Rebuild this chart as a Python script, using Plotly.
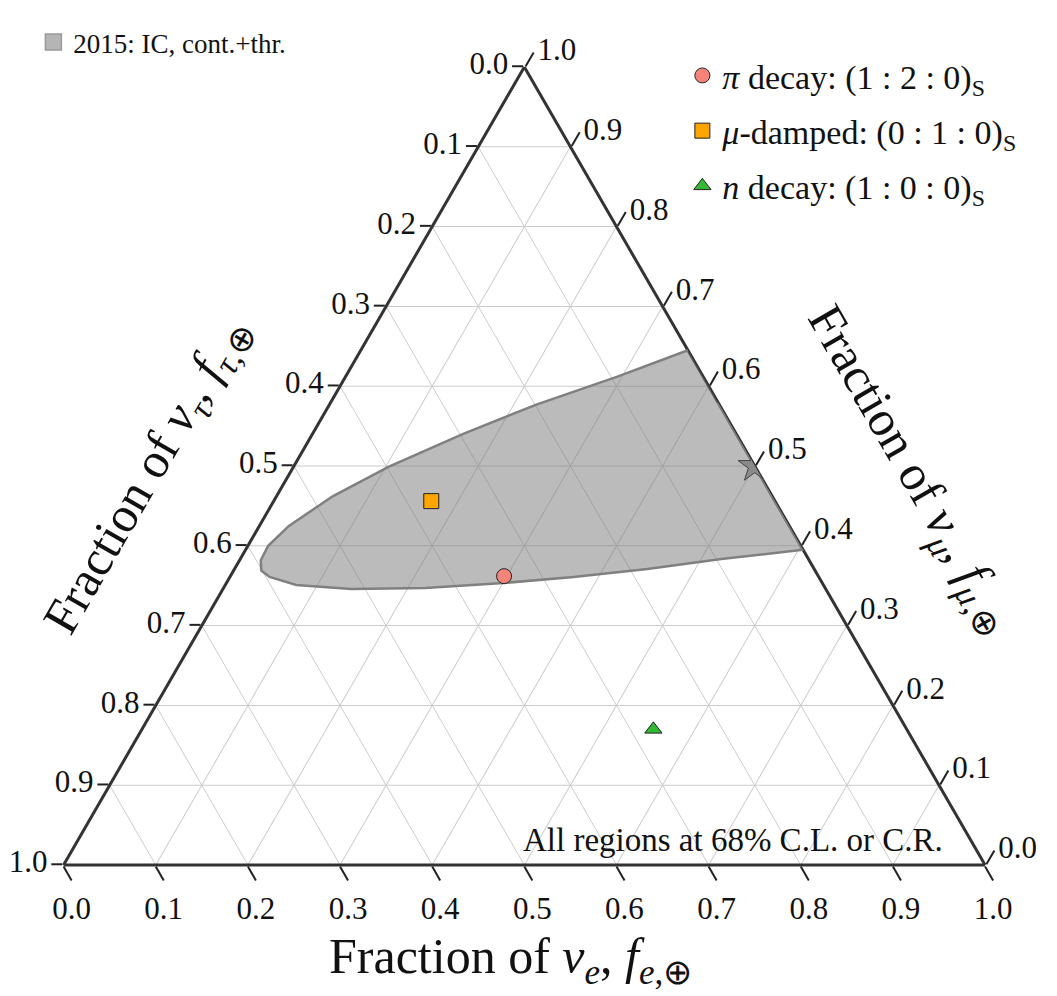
import plotly.graph_objects as go

FONT = "Liberation Serif"

# Tick values along each ternary axis (fractions)
tick_vals = [0.0, 0.1, 0.2, 0.3, 0.4, 0.5, 0.6, 0.7, 0.8, 0.9, 1.0]
tick_text = ["1.0", "0.9", "0.8", "0.7", "0.6", "0.5", "0.4", "0.3", "0.2", "0.1", "0.0"]

# 2015 IceCube region (68% C.R.): flavour fractions at Earth
region_e = [0.355, 0.295, 0.2245, 0.163, 0.103, 0.061, 0.032, 0.022, 0.023,
            0.030, 0.043, 0.077, 0.139, 0.219, 0.297, 0.373, 0.448, 0.522, 0.605,
            0.540, 0.480, 0.420]
region_mu = [0.645, 0.612, 0.577, 0.540, 0.499, 0.462, 0.425, 0.400, 0.382,
             0.369, 0.361, 0.351, 0.346, 0.347, 0.353, 0.361, 0.371, 0.3835, 0.395,
             0.460, 0.520, 0.580]
region_tau = [0.000, 0.093, 0.1985, 0.297, 0.398, 0.477, 0.543, 0.578, 0.595,
              0.601, 0.596, 0.572, 0.515, 0.434, 0.350, 0.266, 0.181, 0.0945, 0.000,
              0.000, 0.000, 0.000]
region_name = "2015: IC, cont.+thr."

# Benchmark source compositions, flavour ratios at Earth
bench_names = ["<i>π</i> decay: (1 : 2 : 0)<sub>S</sub>",
               "<i>μ</i>-damped: (0 : 1 : 0)<sub>S</sub>",
               "<i>n</i> decay: (1 : 0 : 0)<sub>S</sub>"]
bench_e = [0.297, 0.171, 0.555]
bench_mu = [0.362, 0.456, 0.170]
bench_tau = [0.341, 0.373, 0.275]
bench_symbols = ["circle", "square", "triangle-up"]
bench_colors = ["#f4837a", "#ffa500", "#33b833"]

# Best-fit point
best_e = [0.5]
best_mu = [0.5]
best_tau = [0.0]

fig = go.Figure()

fig.add_trace(go.Scatterternary(
    a=region_mu, b=region_tau, c=region_e,
    mode="lines", fill="toself",
    fillcolor="rgba(125,125,125,0.52)",
    line=dict(color="#808080", width=2.5),
    name=region_name, showlegend=False,
    hoverinfo="skip",
))
# legend swatch for the region
fig.add_trace(go.Scatterternary(
    a=[None], b=[None], c=[None], mode="markers",
    marker=dict(symbol="square", size=26, color="#b5b5b5",
                line=dict(color="#9a9a9a", width=1.5)),
    name=region_name, legend="legend",
))

for i in range(3):
    fig.add_trace(go.Scatterternary(
        a=[bench_mu[i]], b=[bench_tau[i]], c=[bench_e[i]],
        mode="markers",
        marker=dict(symbol=bench_symbols[i], size=15, color=bench_colors[i],
                    line=dict(color="#222222", width=1)),
        name=bench_names[i],
        legend="legend2",
        legendgroup="g%d" % i,
    ))

fig.add_trace(go.Scatterternary(
    a=best_mu, b=best_tau, c=best_e,
    mode="markers",
    marker=dict(symbol="star", size=25, color="#8a8a8a",
                line=dict(color="#444444", width=1)),
    showlegend=False,
))

axis_common = dict(
    tickmode="array", tickvals=tick_vals, ticktext=tick_text,
    ticks="outside", ticklen=16, tickwidth=1.5, tickcolor="#222222",
    linecolor="#333333", linewidth=3,
    showgrid=True, gridcolor="#cccccc", gridwidth=1,
    tickfont=dict(family=FONT, size=31, color="#111111"),
    title=dict(text=""), min=0, layer="below traces",
)
aaxis = dict(axis_common, ticklen=11)

fig.update_layout(
    width=1057, height=996,
    margin=dict(l=0, r=0, t=0, b=0),
    paper_bgcolor="white",
    font=dict(family=FONT, color="#111111"),
    ternary=dict(
        sum=1,
        bgcolor="white",
        domain=dict(x=[0.0526, 0.9244], y=[0.1385, 0.9418]),
        aaxis=aaxis, baxis=axis_common, caxis=axis_common,
    ),
    legend=dict(x=0.024, y=0.99, xanchor="left", yanchor="top",
                bgcolor="rgba(255,255,255,0)", font=dict(family=FONT, size=27)),
    legend2=dict(x=0.638, y=0.961, xanchor="left", yanchor="top",
                 bgcolor="rgba(255,255,255,0)", tracegroupgap=8,
                 font=dict(family=FONT, size=34)),
    showlegend=True,
)

title_font = dict(family=FONT, size=50, color="#111111")
fig.add_annotation(x=0.475, y=0.044, xref="paper", yref="paper", showarrow=False,
                   xanchor="center", yanchor="middle",
                   text="Fraction of <i>ν<sub>e</sub></i>, <i>f</i><sub><i>e</i>,⊕</sub>",
                   font=title_font)
fig.add_annotation(x=0.133, y=0.53, xref="paper", yref="paper", showarrow=False,
                   xanchor="center", yanchor="middle", textangle=-60,
                   text="Fraction of <i>ν<sub>τ</sub></i>, <i>f</i><sub><i>τ</i>,⊕</sub>",
                   font=title_font)
fig.add_annotation(x=0.853, y=0.536, xref="paper", yref="paper", showarrow=False,
                   xanchor="center", yanchor="middle", textangle=60,
                   text="Fraction of <i>ν<sub>μ</sub></i>, <i>f</i><sub><i>μ</i>,⊕</sub>",
                   font=title_font)
fig.add_annotation(x=0.686, y=0.1647, xref="paper", yref="paper", showarrow=False,
                   xanchor="center", yanchor="middle",
                   text="All regions at 68% C.L. or C.R.",
                   font=dict(family=FONT, size=33, color="#111111"))

fig.write_html("out.html")
